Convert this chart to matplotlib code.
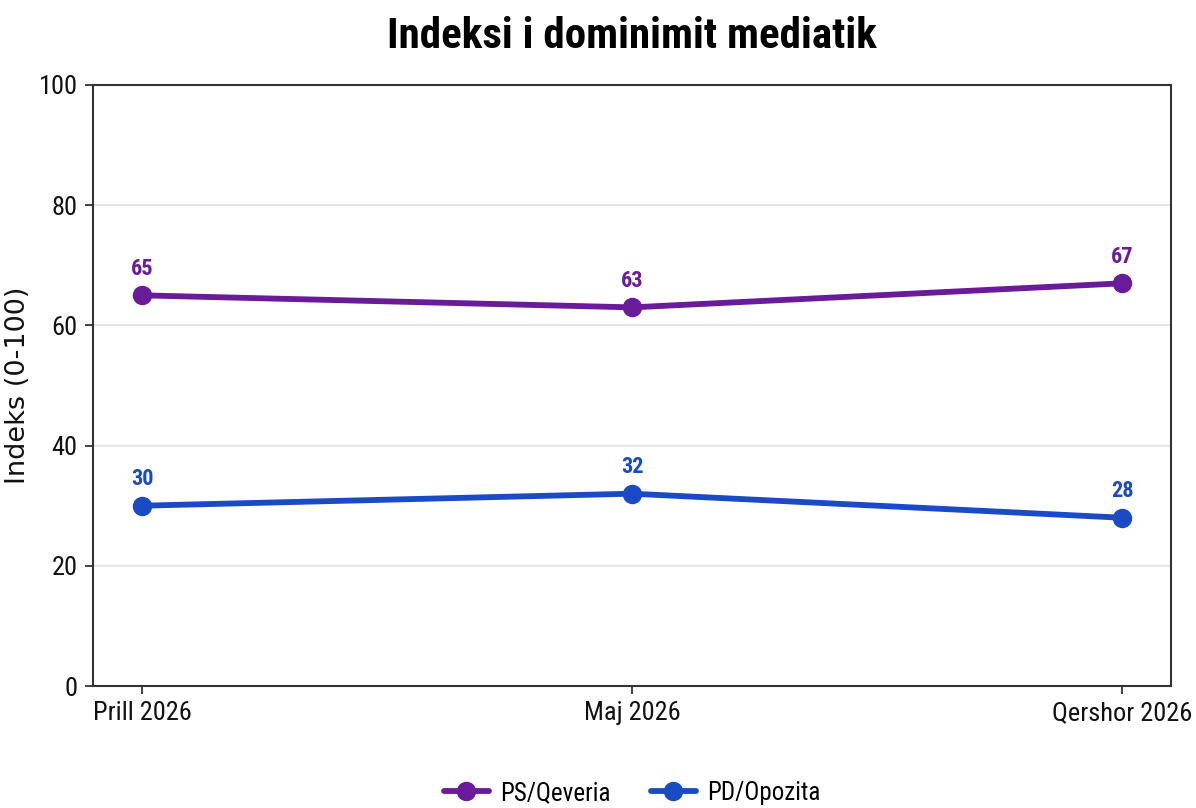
import matplotlib
matplotlib.use("Agg")
import matplotlib.pyplot as plt
from matplotlib import font_manager as fm

# ---- data ----
months = ["Prill 2026", "Maj 2026", "Qershor 2026"]
ps_qeveria = [65, 63, 67]
pd_opozita = [30, 32, 28]
series_names = ["PS/Qeveria", "PD/Opozita"]
series_colors = ["#6A1B9A", "#1A4BC4"]
title = "Indeksi i dominimit mediatik"
ylabel = "Indeks (0-100)"
yticks = [0, 20, 40, 60, 80, 100]

avail = {f.name for f in fm.fontManager.ttflist}
narrow = None
for cand in ["Liberation Sans Narrow", "Roboto Condensed", "IBM Plex Sans Condensed",
             "Sofia Sans Semi Condensed", "DejaVu Sans"]:
    if cand in avail:
        narrow = cand
        break
plt.rcParams["font.family"] = [narrow, "DejaVu Sans"]

fig = plt.figure(figsize=(11.96, 8.08), dpi=100)
ax = fig.add_axes([93 / 1196, 1 - 686 / 808, 1078 / 1196, 601 / 808])

x = list(range(len(months)))
for vals, name, col in zip([ps_qeveria, pd_opozita], series_names, series_colors):
    ax.plot(x, vals, color=col, linewidth=4.2, marker="o", markersize=13,
            label=name, solid_capstyle="round", zorder=3)
    for xi, v in zip(x, vals):
        ax.annotate(str(v), (xi, v), xytext=(0, 11), textcoords="offset points",
                    ha="center", va="bottom", color=col, fontsize=16,
                    fontweight="bold", zorder=4)

ax.set_xlim(-0.1, 2.1)
ax.set_ylim(0, 100)
ax.set_yticks(yticks)
ax.set_xticks(x)
ax.set_xticklabels(months)
ax.tick_params(axis="both", labelsize=19, length=6, width=1.3, color="#333333",
               labelcolor="#111111", pad=5)
ax.grid(axis="y", color="#e6e6e6", linewidth=1.5, zorder=0)
ax.set_axisbelow(True)
for s in ax.spines.values():
    s.set_color("#333333")
    s.set_linewidth(1.5)

ax.set_ylabel(ylabel, fontsize=19.5, family="DejaVu Sans", color="#111111")
ax.yaxis.set_label_coords((31 - 93) / 1078, 0.5)
fig.text(632 / 1196, 1 - 36 / 808, title, ha="center", va="center",
         fontsize=31, fontweight="bold", color="#000000")

leg = ax.legend(loc="center", bbox_to_anchor=(0.5, -0.178), ncol=2, frameon=False,
                fontsize=18, handlelength=1.8, columnspacing=1.6, handletextpad=0.45)

fig.savefig("out.png", dpi=100, facecolor="white")
